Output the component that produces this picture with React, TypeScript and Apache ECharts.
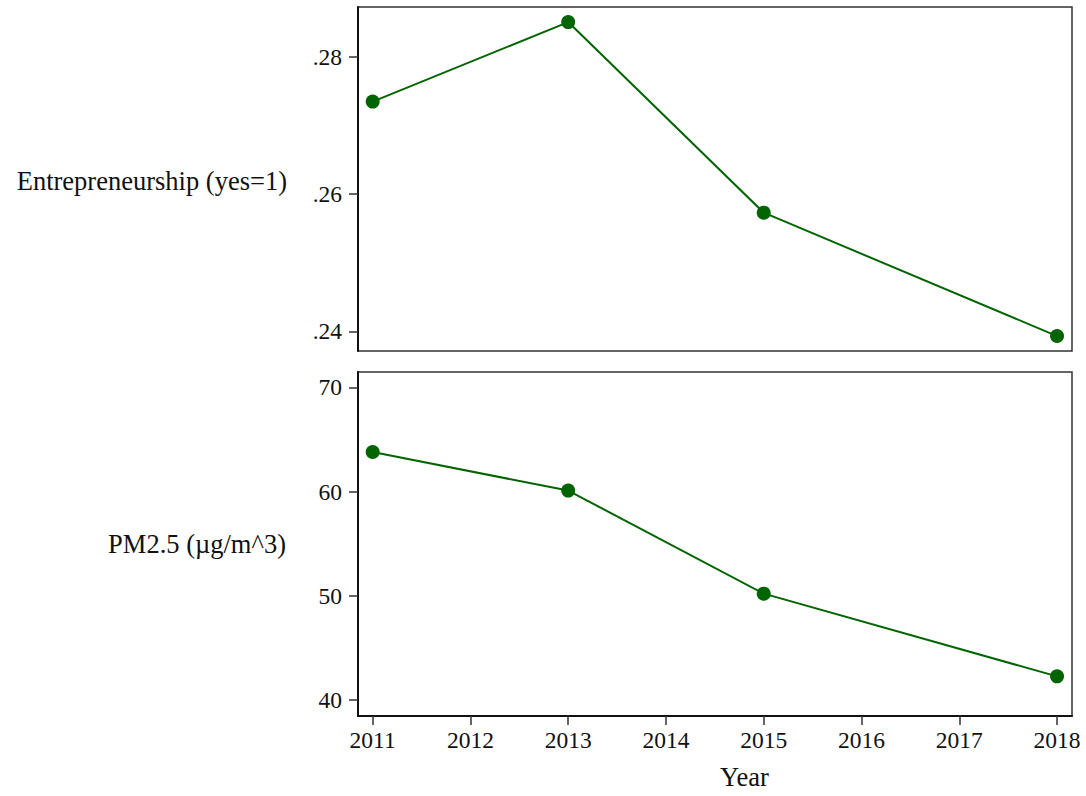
import React, { useEffect, useRef } from "react";
import * as echarts from "echarts";

const years = [2011, 2013, 2015, 2018];
const entrepreneurship = [0.2735, 0.2851, 0.2573, 0.2393];
const pm25 = [63.8, 60.1, 50.22, 42.29];
const xTicks = [2011, 2012, 2013, 2014, 2015, 2016, 2017, 2018];
const topTicks = [0.24, 0.26, 0.28];
const bottomTicks = [40, 50, 60, 70];
const topTitle = "Entrepreneurship (yes=1)";
const bottomTitle = "PM2.5 (\u00b5g/m^3)";
const xTitle = "Year";

const FONT = "Liberation Serif";
const GREEN = "#006400";

export default function App() {
  const ref = useRef<HTMLDivElement>(null);
  useEffect(() => {
    if (!ref.current) return;
    const chart = echarts.init(ref.current, null, { renderer: "svg" });
    const axisLineStyle = { lineStyle: { color: "#111", width: 2 } };
    const tickStyle = { show: true, length: 9, lineStyle: { color: "#333", width: 1.5 } };
    chart.setOption({
      animation: false,
      backgroundColor: "#fff",
      grid: [
        { left: 358, right: 14, top: 7, height: 344, show: true, borderColor: "#333", borderWidth: 1.5, backgroundColor: "transparent" },
        { left: 358, right: 14, top: 372, height: 344, show: true, borderColor: "#333", borderWidth: 1.5, backgroundColor: "transparent" },
      ],
      xAxis: [
        {
          type: "value", gridIndex: 0, min: 2010.85, max: 2018.153, show: false,
          splitLine: { show: false },
        },
        {
          type: "value", gridIndex: 1, min: 2010.85, max: 2018.153,
          axisLine: { show: true, onZero: false, ...axisLineStyle },
          axisTick: { ...tickStyle, customValues: xTicks },
          axisLabel: {
            customValues: xTicks, margin: 12, fontFamily: FONT, fontSize: 23.5, color: "#111",
            formatter: (v: number) => String(v),
          },
          splitLine: { show: false },
        },
      ],
      yAxis: [
        {
          type: "value", gridIndex: 0, min: 0.23712, max: 0.2873,
          axisLine: { show: true, onZero: false, ...axisLineStyle },
          axisTick: { ...tickStyle, customValues: topTicks },
          axisLabel: {
            customValues: topTicks, margin: 16, fontFamily: FONT, fontSize: 23.5, color: "#111",
            formatter: (v: number) => v.toFixed(2).replace(/^0/, ""),
          },
          splitLine: { show: false },
        },
        {
          type: "value", gridIndex: 1, min: 38.49, max: 71.47,
          axisLine: { show: true, onZero: false, ...axisLineStyle },
          axisTick: { ...tickStyle, customValues: bottomTicks },
          axisLabel: {
            customValues: bottomTicks, margin: 16, fontFamily: FONT, fontSize: 23.5, color: "#111",
            formatter: (v: number) => String(v),
          },
          splitLine: { show: false },
        },
      ],
      graphic: [
        {
          type: "text", right: 1086 - 287, top: 167,
          style: { text: topTitle, fontFamily: FONT, fontSize: 26.5, fill: "#111", textAlign: "right" },
        },
        {
          type: "text", right: 1086 - 286, top: 530,
          style: { text: bottomTitle, fontFamily: FONT, fontSize: 26.5, fill: "#111", textAlign: "right" },
        },
        {
          type: "text", left: 720, top: 763,
          style: { text: xTitle, fontFamily: FONT, fontSize: 26.5, fill: "#111" },
        },
      ],
      series: [
        {
          type: "line", xAxisIndex: 0, yAxisIndex: 0,
          data: years.map((y, i) => [y, entrepreneurship[i]]),
          symbol: "circle", symbolSize: 14,
          lineStyle: { color: GREEN, width: 2 },
          itemStyle: { color: GREEN },
        },
        {
          type: "line", xAxisIndex: 1, yAxisIndex: 1,
          data: years.map((y, i) => [y, pm25[i]]),
          symbol: "circle", symbolSize: 14,
          lineStyle: { color: GREEN, width: 2 },
          itemStyle: { color: GREEN },
        },
      ],
    });
    return () => chart.dispose();
  }, []);
  return (
    <div
      ref={ref}
      style={{ position: "absolute", left: 0, top: 0, width: 1086, height: 796, background: "#fff" }}
    />
  );
}
